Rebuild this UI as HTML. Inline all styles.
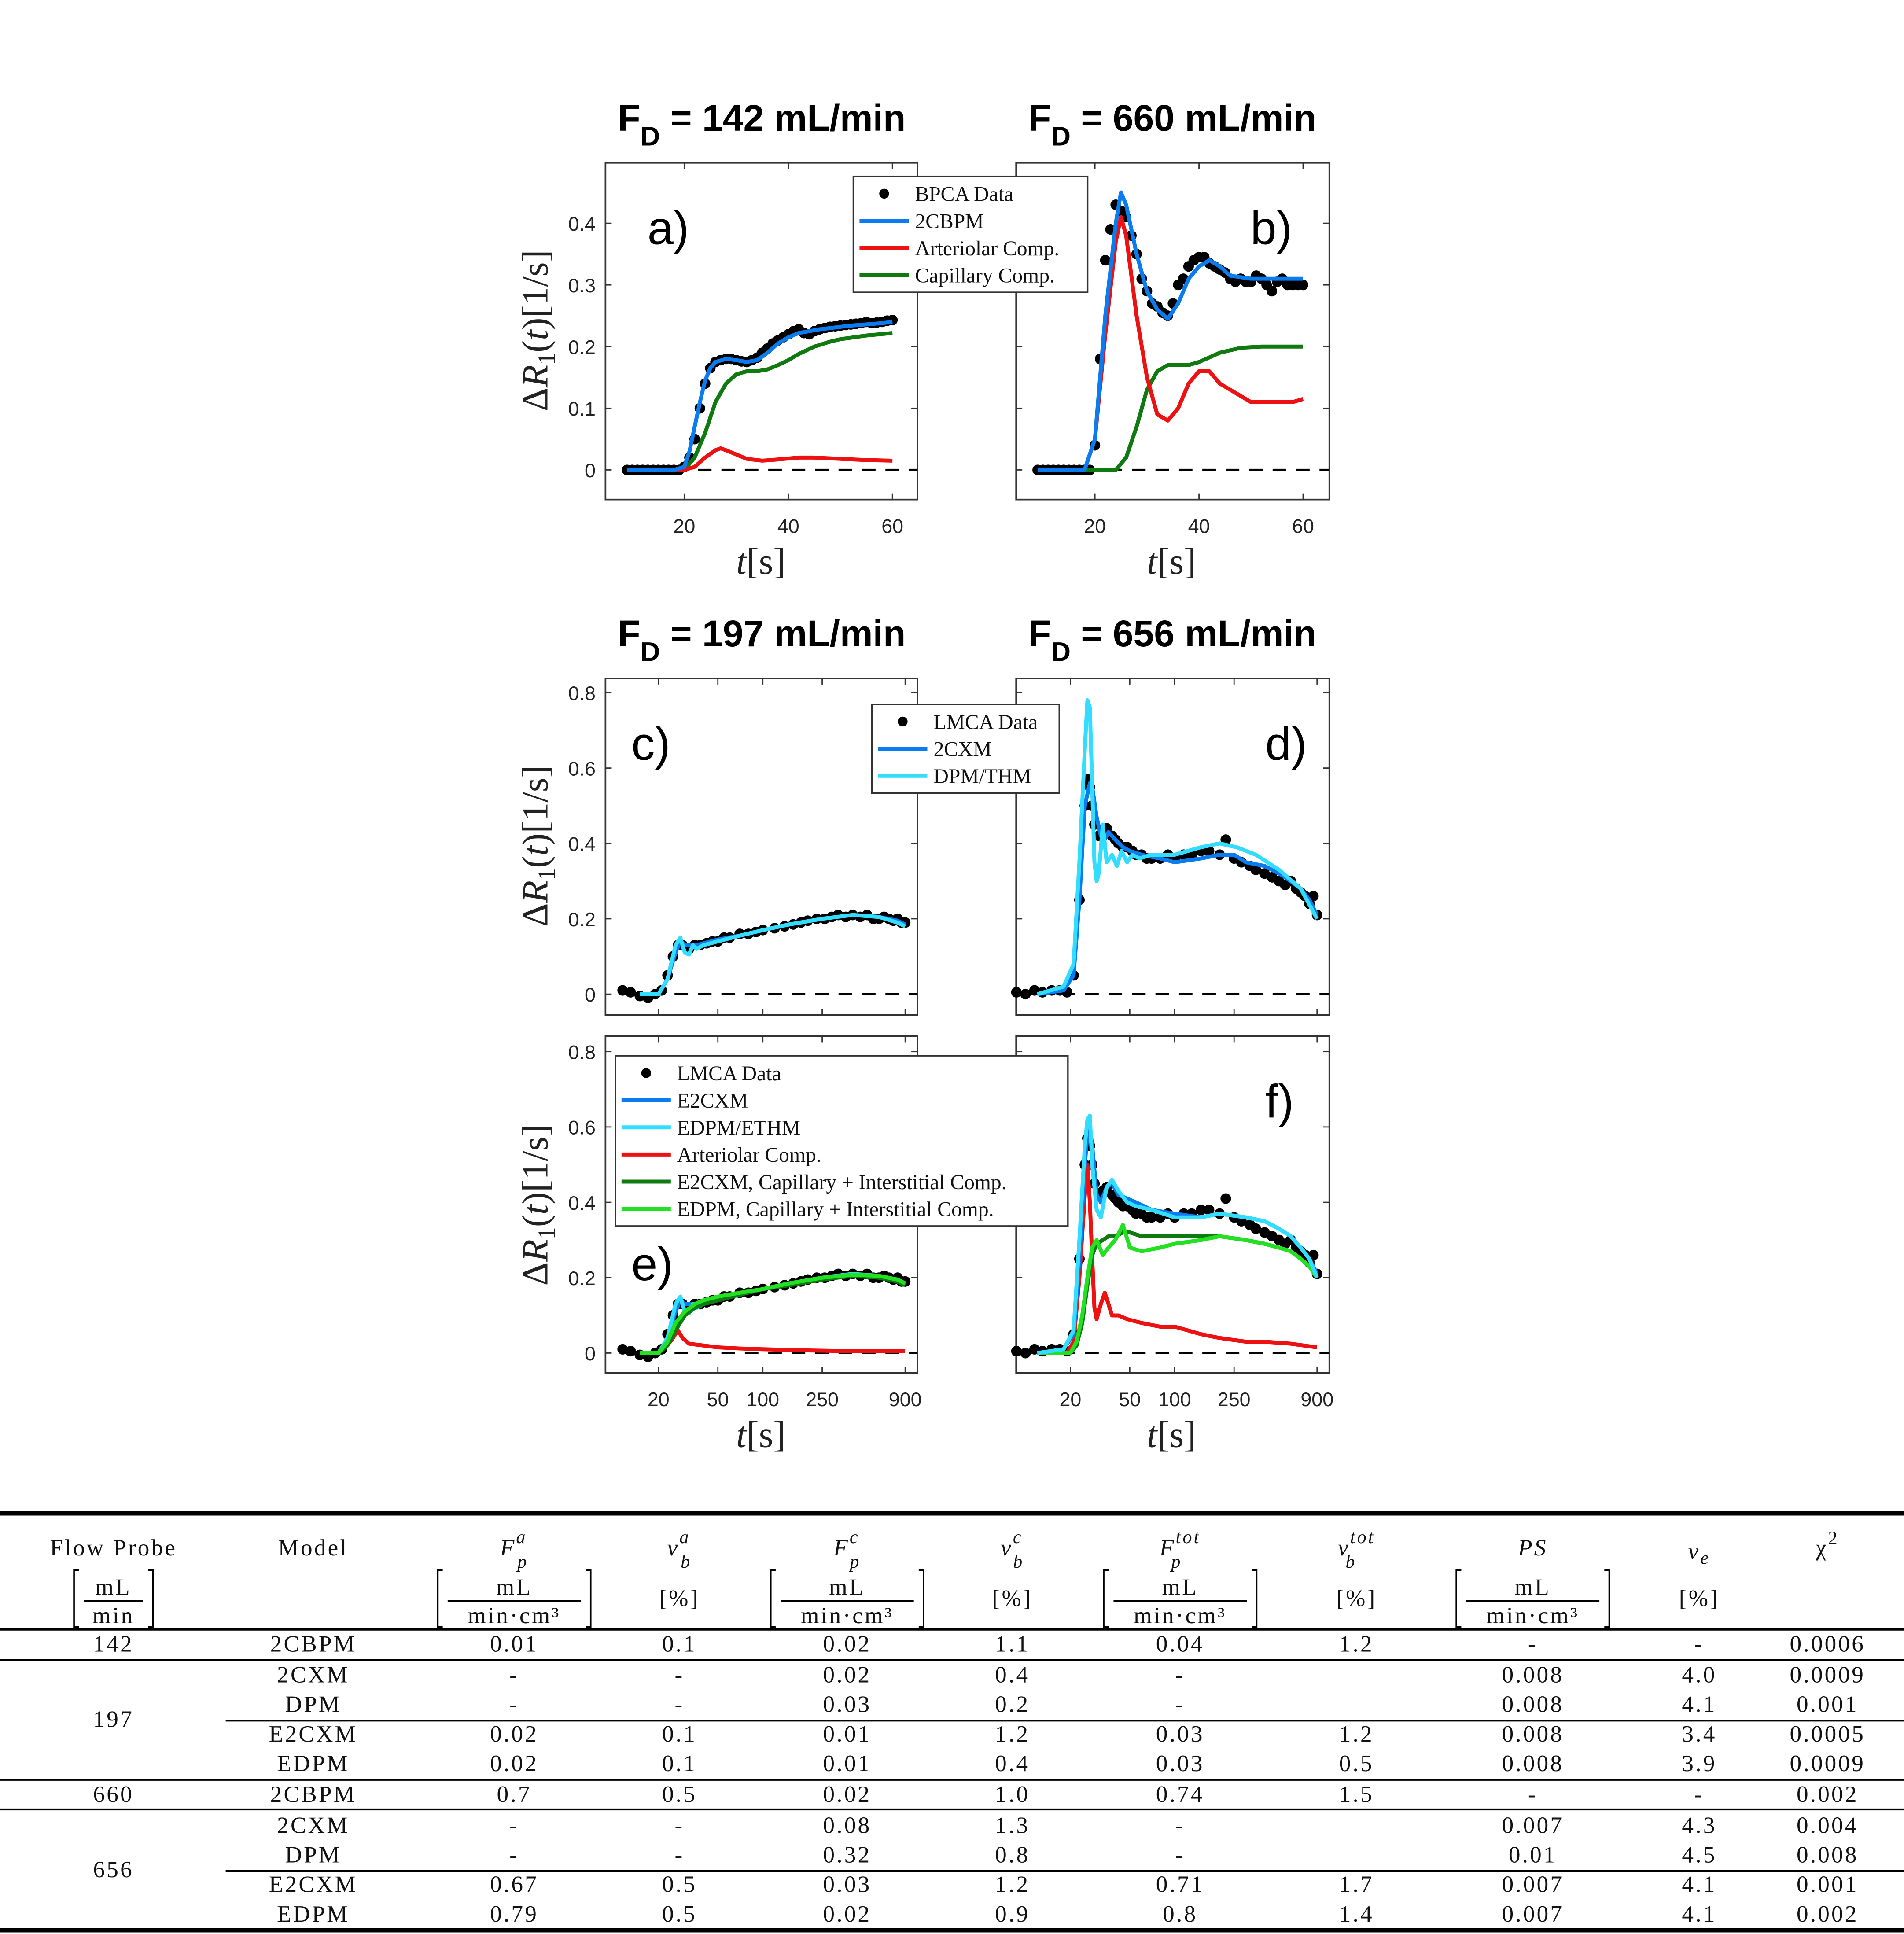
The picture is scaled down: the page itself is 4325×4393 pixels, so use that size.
<!DOCTYPE html>
<html><head><meta charset="utf-8"><style>
html,body{margin:0;padding:0;background:#fff}
svg{display:block}
.tk{font-family:"Liberation Sans",sans-serif;font-size:16px;fill:#222}
.lg{font-family:"Liberation Serif",serif;font-size:17px;fill:#111}
.tb{font-family:"Liberation Serif",serif;font-size:19px;fill:#111;letter-spacing:1.5px}
.ti{font-family:"Liberation Sans",sans-serif;font-size:30px;font-weight:bold;fill:#000}
.pl{font-family:"Liberation Sans",sans-serif;font-size:38px;fill:#000}
.yl{font-family:"Liberation Serif",serif;font-size:30px;fill:#222}
</style></head><body>
<svg id="root" width="4325" height="4393" viewBox="0 0 1544 1568" preserveAspectRatio="none" xmlns="http://www.w3.org/2000/svg"></svg>
<script>
// ---- Panel a (t in s, dR1 in 1/s) ----
const aDataT=[9,10,11,12,13,14,15,16,17,18,19,20,21,22,23,24,25,26,27,28,29,30,31,32,33,34,35,36,37,38,39,40,41,42,43,44,45,46,47,48,49,50,51,52,53,54,55,56,57,58,59,60];
const aDataV=[0,0,0,0,0,0,0,0,0,0,0,0.005,0.02,0.05,0.1,0.14,0.165,0.175,0.178,0.18,0.18,0.178,0.176,0.175,0.178,0.182,0.19,0.197,0.205,0.21,0.215,0.22,0.225,0.228,0.222,0.22,0.225,0.228,0.23,0.232,0.233,0.234,0.235,0.236,0.237,0.238,0.24,0.238,0.239,0.24,0.242,0.243];
const aFitT=[9,18,20,21,22,23,24,25,26,28,30,32,34,36,38,40,42,44,46,48,50,52,55,58,60];
const aFit=[0,0,0.005,0.03,0.07,0.11,0.145,0.165,0.175,0.18,0.178,0.175,0.178,0.19,0.205,0.215,0.222,0.225,0.228,0.23,0.232,0.234,0.236,0.238,0.24];
const aArtT=[9,20,22,24,26,27,28,30,32,35,38,42,45,50,55,60];
const aArt=[0,0,0.005,0.02,0.032,0.035,0.032,0.025,0.018,0.015,0.017,0.02,0.02,0.018,0.016,0.015];
const aCapT=[9,20,22,24,26,28,30,32,34,36,38,40,42,45,48,50,55,60];
const aCap=[0,0,0.02,0.06,0.11,0.14,0.155,0.16,0.16,0.163,0.17,0.178,0.188,0.2,0.208,0.212,0.218,0.222];
// ---- Panel b ----
const bDataT=[9,10,11,12,13,14,15,16,17,18,19,20,21,22,23,24,25,26,27,28,29,30,31,32,33,34,35,36,37,38,39,40,41,42,43,44,45,46,47,48,49,50,51,52,53,54,55,56,57,58,59,60];
const bDataV=[0,0,0,0,0,0,0,0,0,0,0,0.04,0.18,0.34,0.39,0.43,0.42,0.41,0.38,0.35,0.31,0.29,0.27,0.265,0.255,0.25,0.27,0.3,0.31,0.33,0.34,0.345,0.345,0.335,0.33,0.325,0.32,0.31,0.305,0.31,0.305,0.305,0.315,0.31,0.3,0.29,0.305,0.31,0.3,0.3,0.3,0.3];
const bFitT=[9,18,20,22,24,25,26,28,30,32,34,36,38,40,42,44,46,50,55,60];
const bFit=[0,0,0.05,0.25,0.4,0.45,0.43,0.35,0.29,0.26,0.245,0.27,0.31,0.33,0.34,0.33,0.315,0.31,0.31,0.31];
const bArtT=[9,18,20,22,24,25,26,28,30,32,34,36,38,40,42,44,46,48,50,55,58,60];
const bArt=[0,0,0.05,0.22,0.37,0.41,0.38,0.25,0.15,0.09,0.08,0.1,0.14,0.16,0.16,0.14,0.13,0.12,0.11,0.11,0.11,0.115];
const bCapT=[9,24,26,28,30,32,34,36,38,40,44,48,52,60];
const bCap=[0,0,0.02,0.07,0.13,0.16,0.17,0.17,0.17,0.175,0.19,0.198,0.2,0.2];
// ---- Panel c/e (log time) ----
const cDataT=[11.5,13,15,17,19,21,23,25,27,29,32,35,38,42,46,50,55,60,70,80,90,100,120,140,160,180,200,230,260,290,320,360,400,450,500,550,600,650,700,750,800,850,900];
const cDataV=[0.01,0.005,-0.005,-0.01,0,0.01,0.05,0.1,0.13,0.13,0.12,0.13,0.13,0.135,0.14,0.14,0.15,0.15,0.16,0.16,0.165,0.17,0.175,0.18,0.185,0.19,0.195,0.2,0.2,0.205,0.21,0.205,0.21,0.205,0.21,0.2,0.2,0.205,0.2,0.195,0.2,0.19,0.19];
const c2cxmT=[15,20,23,26,28,30,33,36,40,50,70,100,150,250,400,600,800,900];
const c2cxm=[0,0,0.04,0.11,0.14,0.13,0.13,0.13,0.135,0.145,0.155,0.17,0.185,0.2,0.21,0.205,0.195,0.185];
const cDpmT=[15,20,23,26,28,30,32,34,36,40,50,70,100,150,250,400,600,800,900];
const cDpm=[0,0,0.04,0.13,0.15,0.11,0.105,0.13,0.12,0.13,0.14,0.155,0.17,0.185,0.2,0.21,0.205,0.19,0.18];
const eArtT=[15,20,24,27,29,32,40,50,70,100,200,400,900];
const eArt=[0,0,0.03,0.06,0.04,0.025,0.02,0.015,0.012,0.01,0.007,0.005,0.005];
const eCapT=[15,20,23,26,30,35,40,50,70,100,150,250,400,600,800,900];
const eCap=[0,0,0.02,0.06,0.1,0.12,0.13,0.14,0.155,0.17,0.18,0.195,0.205,0.2,0.19,0.18];
const eCap2=[0,0,0.03,0.08,0.11,0.13,0.14,0.15,0.16,0.17,0.185,0.2,0.208,0.205,0.195,0.185];
// ---- Panel d/f ----
const dDataT=[8.7,10,11.5,13,15,17,19,21,23,25,26,27,28,29,31,33,35,38,40,42,45,48,52,55,60,65,70,80,90,100,115,130,150,170,200,220,250,280,320,350,400,450,500,550,600,650,700,750,800,850,900];
const dDataV=[0.005,0,0.01,0.005,0.01,0.01,0.005,0.05,0.25,0.5,0.57,0.55,0.5,0.45,0.42,0.43,0.44,0.42,0.41,0.4,0.39,0.39,0.38,0.37,0.37,0.36,0.36,0.36,0.37,0.36,0.37,0.37,0.38,0.38,0.37,0.41,0.36,0.35,0.34,0.33,0.32,0.31,0.3,0.29,0.3,0.28,0.27,0.26,0.24,0.26,0.21];
const d2cxmT=[12,18,21,23,25,27,28,30,32,34,36,40,45,50,60,80,100,150,200,250,300,400,500,600,700,800,900];
const d2cxm=[0,0.01,0.05,0.25,0.5,0.56,0.55,0.47,0.42,0.41,0.43,0.41,0.39,0.38,0.37,0.36,0.35,0.36,0.37,0.37,0.35,0.34,0.32,0.3,0.28,0.25,0.21];
const dDpmT=[12,18,21,23,25,26,27,28,29,30,31,33,35,38,41,44,48,52,58,70,100,150,200,260,350,500,700,900];
const dDpm=[0,0.02,0.08,0.35,0.65,0.78,0.76,0.55,0.35,0.3,0.32,0.45,0.35,0.37,0.34,0.38,0.35,0.37,0.36,0.37,0.37,0.39,0.4,0.39,0.37,0.33,0.28,0.2];
const fE2T=[12,18,21,23,25,26,27,28,30,32,35,38,42,48,55,70,100,150,200,300,400,500,600,700,800,900];
const fE2=[0,0.01,0.05,0.25,0.5,0.58,0.6,0.55,0.42,0.4,0.44,0.45,0.42,0.41,0.4,0.38,0.37,0.36,0.37,0.36,0.35,0.33,0.31,0.28,0.25,0.21];
const fEdpm=[0,0.01,0.06,0.3,0.55,0.62,0.63,0.5,0.38,0.36,0.44,0.46,0.43,0.4,0.39,0.38,0.36,0.36,0.37,0.36,0.35,0.33,0.31,0.28,0.25,0.2];
const fArtT=[12,19,21,23,25,26,27,28,29,30,32,34,36,38,42,48,60,80,100,150,200,300,400,600,900];
const fArt=[0,0,0.03,0.2,0.42,0.5,0.4,0.25,0.12,0.09,0.13,0.16,0.13,0.1,0.1,0.09,0.08,0.07,0.07,0.05,0.04,0.03,0.03,0.025,0.015];
const fCapT=[12,20,22,24,26,28,30,33,36,40,45,50,60,80,100,150,200,300,400,500,600,700,800,900];
const fCap=[0,0,0.02,0.08,0.18,0.26,0.29,0.3,0.31,0.31,0.32,0.32,0.31,0.31,0.31,0.31,0.31,0.3,0.29,0.28,0.27,0.25,0.23,0.21];
const fCap2=[0,0,0.03,0.1,0.2,0.28,0.3,0.26,0.28,0.3,0.34,0.28,0.27,0.28,0.29,0.3,0.31,0.3,0.29,0.28,0.27,0.25,0.23,0.2];

const NS="http://www.w3.org/2000/svg";
const root=document.getElementById('root');
function mk(tag,attrs,parent,txt){const e=document.createElementNS(NS,tag);for(const k in attrs)e.setAttribute(k,attrs[k]);if(txt!==undefined)e.textContent=txt;(parent||root).appendChild(e);return e;}
const BLUE="#0a7cf0",CYAN="#33ddff",RED="#ee1111",DG="#107a10",LG="#22e022";

function panel(name,x0,y0,w,h,xs,ys,yTicks,xTicks,xTickLabels){
  const g=mk('g',{},root);
  
  
  const r=mk('rect',{x:x0,y:y0,width:w,height:h,fill:'#fff',stroke:'#333','stroke-width':1.3},g);
  
  
  yTicks.forEach(v=>{const y=ys(v);mk('line',{x1:x0,x2:x0+5,y1:y,y2:y,stroke:'#333'},g);mk('line',{x1:x0+w,x2:x0+w-5,y1:y,y2:y,stroke:'#333'},g);
    const t=mk('text',{x:x0-8,y:y+6,'text-anchor':'end',class:'tk'},g,String(v));
    
    });
  if(xTicks) xTicks.forEach((v,i)=>{const x=xs(v);mk('line',{x1:x,x2:x,y1:y0+h,y2:y0+h-5,stroke:'#333'},g);mk('line',{x1:x,x2:x,y1:y0,y2:y0+5,stroke:'#333'},g);
    if(xTickLabels){const t=mk('text',{x:x,y:y0+h+27,'text-anchor':'middle',class:'tk'},g,xTickLabels[i]);
    
    }});
  // zero line
  const zl=mk('line',{x1:x0+18,x2:x0+w,y1:ys(0),y2:ys(0),stroke:'#000','stroke-width':1.8,'stroke-dasharray':'11,8'},g);
  
  
  return g;
}
function line(g,xs,ys,T,V,color,name,wd){
  const p=mk('polyline',{points:T.map((t,i)=>xs(t).toFixed(1)+','+ys(V[i]).toFixed(1)).join(' '),fill:'none',stroke:color,'stroke-width':wd||3.2,'stroke-linejoin':'round'},g);
  
  
}
function dots(g,xs,ys,T,V,name){
  T.forEach((t,i)=>{const c=mk('circle',{cx:xs(t),cy:ys(V[i]),r:4.3,fill:'#000'},g);
    
    });
}
function legend(x,y,w,items){
  const g=mk('g',{},root);
  
  
  mk('rect',{x:x,y:y,width:w,height:items.length*22+6,fill:'#fff',stroke:'#333','stroke-width':1.2},g);
  items.forEach((it,i)=>{const cy=y+14+i*22;
    if(it[1]==='dot') mk('circle',{cx:x+25,cy:cy,r:4,fill:'#000'},g);
    else mk('line',{x1:x+5,x2:x+45,y1:cy,y2:cy,stroke:it[1],'stroke-width':3.2},g);
    const t=mk('text',{x:x+50,y:cy+6,class:'lg'},g,it[0]);
    
    });
}
function title(x,y,num){
  const t=mk('text',{x:x,y:y,class:'ti'},root);
  
  
  mk('tspan',{},t,'F');mk('tspan',{dy:12,'font-size':22},t,'D');mk('tspan',{dy:-12},t,' = '+num+' mL/min');
}
function plabel(x,y,s){const t=mk('text',{x:x,y:y,class:'pl'},root,s);}
function ylabel(cx,cy){const t=mk('text',{x:0,y:0,class:'yl','text-anchor':'middle',transform:`translate(${cx},${cy}) rotate(-90)`},root);
  
  mk('tspan',{},t,'Δ');mk('tspan',{'font-style':'italic'},t,'R');mk('tspan',{dy:6,'font-size':20},t,'1');mk('tspan',{dy:-6},t,'(');mk('tspan',{'font-style':'italic'},t,'t');mk('tspan',{},t,')[1/s]');}
function xlabel(cx,cy){const t=mk('text',{x:cx,y:cy,class:'yl','text-anchor':'middle'},root);
  
  mk('tspan',{'font-style':'italic'},t,'t');mk('tspan',{},t,'[s]');}

// scales
const linX=off=>t=>off+(t)*4.22;
const ysTop=v=>381-v*500;
const ysMid=v=>806-v*305.5;
const ysBot=v=>1097-v*305.5;
const logX=off=>t=>off+(Math.log10(t)-Math.log10(20))*121;

// a
let xa=linX(470.5);
let g=panel('panel-a',491,132,253,273,xa,ysTop,[0,0.1,0.2,0.3,0.4],[20,40,60],['20','40','60']);
dots(g,xa,ysTop,aDataT,aDataV,'bpca-data-point');
line(g,xa,ysTop,aCapT,aCap,DG,'capillary-comp-line');
line(g,xa,ysTop,aArtT,aArt,RED,'arteriolar-comp-line');
line(g,xa,ysTop,aFitT,aFit,BLUE,'2cbpm-line');
// b
let xb=linX(803.5);
g=panel('panel-b',824,132,254,273,xb,ysTop,[0,0.1,0.2,0.3,0.4],[20,40,60],['20','40','60']);
g.querySelectorAll('.tk').forEach(e=>{if(e.getAttribute('text-anchor')==='end')e.remove();});
dots(g,xb,ysTop,bDataT,bDataV,'bpca-data-point');
line(g,xb,ysTop,bCapT,bCap,DG,'capillary-comp-line');
line(g,xb,ysTop,bArtT,bArt,RED,'arteriolar-comp-line');
line(g,xb,ysTop,bFitT,bFit,BLUE,'2cbpm-line');
// c
let xc=logX(534);
g=panel('panel-c',491,550,253,273,xc,ysMid,[0,0.2,0.4,0.6,0.8],[20,50,100,250,900],null);
dots(g,xc,ysMid,cDataT,cDataV,'lmca-data-point');
line(g,xc,ysMid,c2cxmT,c2cxm,BLUE,'2cxm-line');
line(g,xc,ysMid,cDpmT,cDpm,CYAN,'dpm-thm-line');
// d
let xd=logX(868);
g=panel('panel-d',824,550,254,273,xd,ysMid,[0,0.2,0.4,0.6,0.8],[20,50,100,250,900],null);
g.querySelectorAll('.tk').forEach(e=>e.remove());
dots(g,xd,ysMid,dDataT,dDataV,'lmca-data-point');
line(g,xd,ysMid,d2cxmT,d2cxm,BLUE,'2cxm-line');
line(g,xd,ysMid,dDpmT,dDpm,CYAN,'dpm-thm-line');
// e
g=panel('panel-e',491,840,253,273,xc,ysBot,[0,0.2,0.4,0.6,0.8],[20,50,100,250,900],['20','50','100','250','900']);
dots(g,xc,ysBot,cDataT,cDataV,'lmca-data-point');
line(g,xc,ysBot,c2cxmT,c2cxm,BLUE,'e2cxm-line');
line(g,xc,ysBot,cDpmT,cDpm,CYAN,'edpm-ethm-line');
line(g,xc,ysBot,eArtT,eArt,RED,'arteriolar-comp-line');
line(g,xc,ysBot,eCapT,eCap,DG,'e2cxm-capillary-line');
line(g,xc,ysBot,eCapT,eCap2,LG,'edpm-capillary-line');
// f
g=panel('panel-f',824,840,254,273,xd,ysBot,[0,0.2,0.4,0.6,0.8],[20,50,100,250,900],['20','50','100','250','900']);
g.querySelectorAll('.tk').forEach(e=>{if(e.getAttribute('text-anchor')==='end')e.remove();});
dots(g,xd,ysBot,dDataT,dDataV,'lmca-data-point');
line(g,xd,ysBot,fArtT,fArt,RED,'arteriolar-comp-line');
line(g,xd,ysBot,fCapT,fCap,DG,'e2cxm-capillary-line');
line(g,xd,ysBot,fCapT,fCap2,LG,'edpm-capillary-line');
line(g,xd,ysBot,fE2T,fE2,BLUE,'e2cxm-line');
line(g,xd,ysBot,fE2T,fEdpm,CYAN,'edpm-ethm-line');

legend(692,143,190,[['BPCA Data','dot'],['2CBPM',BLUE],['Arteriolar Comp.',RED],['Capillary Comp.',DG]]);
legend(707,571,152,[['LMCA Data','dot'],['2CXM',BLUE],['DPM/THM',CYAN]]);
legend(499,856,367,[['LMCA Data','dot'],['E2CXM',BLUE],['EDPM/ETHM',CYAN],['Arteriolar Comp.',RED],['E2CXM, Capillary + Interstitial Comp.',DG],['EDPM, Capillary + Interstitial Comp.',LG]]);

title(501,106,'142');title(834,106,'660');title(501,524,'197');title(834,524,'656');
plabel(525,198,'a)');plabel(1014,198,'b)');plabel(512,616,'c)');plabel(1026,616,'d)');plabel(512,1038,'e)');plabel(1026,906,'f)');
ylabel(444,268);ylabel(444,686);ylabel(444,977);
xlabel(617,465);xlabel(950,465);xlabel(617,1173);xlabel(950,1173);

// ---- table ----
const tg=mk('g',{},root);


const cols=[92,254,417,551,687,821,957,1100,1243,1378,1482];
function tt(x,y,s,extra){const t=mk('text',Object.assign({x:x,y:y,class:'tb','text-anchor':'middle'},extra||{}),tg,s);return t;}
function hl(y,x1,w){mk('line',{x1:x1,x2:1544,y1:y,y2:y,stroke:'#000','stroke-width':w},tg);}
hl(1227,0,3.5);hl(1321,0,2);hl(1346,0,1.5);hl(1395,183,1.5);hl(1443,0,1.5);hl(1467,0,1.5);hl(1517,183,1.5);hl(1565,0,3.5);
tt(92,1261,'Flow Probe');tt(254,1261,'Model');
function sym(x,base,sup,sub){const t=mk('text',{x:x,y:1261,class:'tb','text-anchor':'middle','font-style':'italic'},tg);
  
  mk('tspan',{},t,base);mk('tspan',{dy:-10,'font-size':15},t,sup);mk('tspan',{dx:-(sup.length*8),dy:20,'font-size':15},t,sub);}
sym(cols[2],'F','a','p');sym(cols[3],'v','a','b');sym(cols[4],'F','c','p');sym(cols[5],'v','c','b');sym(cols[6],'F','tot','p');sym(cols[7],'v','tot','b');
tt(cols[8],1261,'PS',{'font-style':'italic'});
const ve=tt(cols[9],1264,'v',{'font-style':'italic'});mk('tspan',{dy:4,'font-size':15},ve,'e');
const chi=tt(cols[10],1261,'χ');mk('tspan',{dy:-9,'font-size':15},chi,'2');
function frac(x,num,den,hw){
  tt(x,1293,num);mk('line',{x1:x-hw,x2:x+hw,y1:1298,y2:1298,stroke:'#000','stroke-width':1.3},tg);
  const d=tt(x,1316,den);
  const bx1=x-hw-8,bx2=x+hw+8;
  mk('path',{d:`M${bx1+4},1273 H${bx1} V1319 H${bx1+4} M${bx2-4},1273 H${bx2} V1319 H${bx2-4}`,fill:'none',stroke:'#000','stroke-width':1.3},tg);
}
frac(92,'mL','min',24);
[2,4,6,8].forEach(i=>frac(cols[i],'mL','min·cm³',54));
tt(cols[3],1302,'[%]');tt(cols[5],1302,'[%]');tt(cols[7],1302,'[%]');tt(cols[9],1302,'[%]');
const rows=[
[1339,'142','2CBPM','0.01','0.1','0.02','1.1','0.04','1.2','-','-','0.0006'],
[1364,'','2CXM','-','-','0.02','0.4','-','','0.008','4.0','0.0009'],
[1388,'','DPM','-','-','0.03','0.2','-','','0.008','4.1','0.001'],
[1412,'','E2CXM','0.02','0.1','0.01','1.2','0.03','1.2','0.008','3.4','0.0005'],
[1436,'','EDPM','0.02','0.1','0.01','0.4','0.03','0.5','0.008','3.9','0.0009'],
[1461,'660','2CBPM','0.7','0.5','0.02','1.0','0.74','1.5','-','-','0.002'],
[1486,'','2CXM','-','-','0.08','1.3','-','','0.007','4.3','0.004'],
[1510,'','DPM','-','-','0.32','0.8','-','','0.01','4.5','0.008'],
[1534,'','E2CXM','0.67','0.5','0.03','1.2','0.71','1.7','0.007','4.1','0.001'],
[1558,'','EDPM','0.79','0.5','0.02','0.9','0.8','1.4','0.007','4.1','0.002']];
rows.forEach(r=>{for(let i=1;i<r.length;i++){if(r[i]!=='')tt(cols[i-1],r[0],r[i]);}});
tt(92,1400,'197');tt(92,1522,'656');
</script>
</body></html>
